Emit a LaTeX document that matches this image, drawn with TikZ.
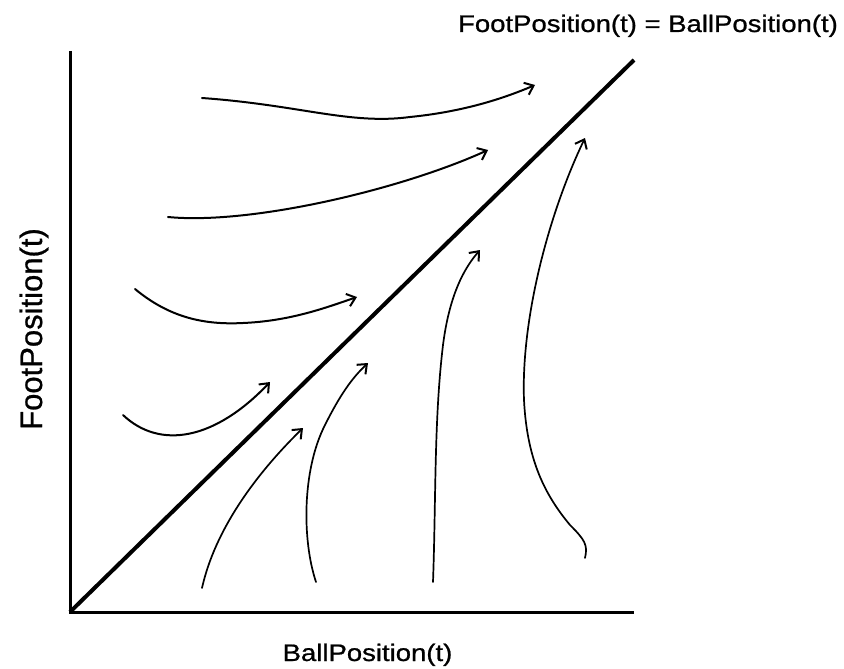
\documentclass[tikz,border=0pt]{standalone}
\usepackage{fontspec}
\setmainfont{Liberation Sans}
\newfontfamily\heavysans[FakeBold=0.8]{Liberation Sans}
\usetikzlibrary{arrows.meta}
\begin{document}
\begin{tikzpicture}[x=1pt,y=-1pt,
  axisline/.style={line width=3pt},
  diagline/.style={line width=4pt},
  tipshape/.style={-{Straight Barb[length=8pt,width=13pt,line width=2pt]}},
  flow/.style={line width=2pt,line cap=round,tipshape},
  flowthin/.style={line width=1.7pt,line cap=round,tipshape},
  lbl/.style={inner sep=0pt,font=\heavysans\fontsize{27.5}{30}\selectfont}
]
\useasboundingbox (0,0) rectangle (844,669);
% axes
\coordinate (O) at (70,612);
\coordinate (Ytop) at (70,51);
\coordinate (Xend) at (634,612);
\coordinate (Dtop) at (634,60);
\draw[axisline] (Ytop) -- (O) -- (Xend);
\draw[diagline] (O) -- (Dtop);
% labels
\node[lbl,anchor=base] (diaglabel) at (648,32) {\scalebox{1}[0.87]{FootPosition(t) = BallPosition(t)}};
\node[lbl,anchor=base] (xlabel) at (367.5,661) {\scalebox{1}[0.87]{BallPosition(t)}};
\node[inner sep=0pt,font=\heavysans\fontsize{31}{34}\selectfont,anchor=base,rotate=90] (ylabel) at (42,329) {FootPosition(t)};
% flow curves above the diagonal
\draw[flow] (202,98) .. controls (300,105) and (350,125) .. (410,117) .. controls (460,112) and (500,100) .. (535,85);
\draw[flow] (168,217) .. controls (250,225) and (400,190) .. (488,150);
\draw[flow] (135,289) .. controls (170,318) and (205,325) .. (243,323) .. controls (290,321) and (325,308) .. (357,297);
\draw[flow] (123,415) .. controls (160,450) and (215,440) .. (270,382);
% flow curves below the diagonal
\draw[flowthin] (202,588) .. controls (215,530) and (255,475) .. (303,428);
\draw[flowthin] (316,582) .. controls (302,540) and (302,470) .. (325,425) .. controls (340,395) and (352,378) .. (368,363);
\draw[flowthin] (433,582) .. controls (436,500) and (434,420) .. (443,345) .. controls (450,290) and (467,265) .. (480,250);
\draw[flowthin] (585,558) .. controls (588,545) and (585,540) .. (570,525) .. controls (545,495) and (527,460) .. (524,400) .. controls (521,320) and (548,215) .. (585,138);
\end{tikzpicture}
\end{document}
